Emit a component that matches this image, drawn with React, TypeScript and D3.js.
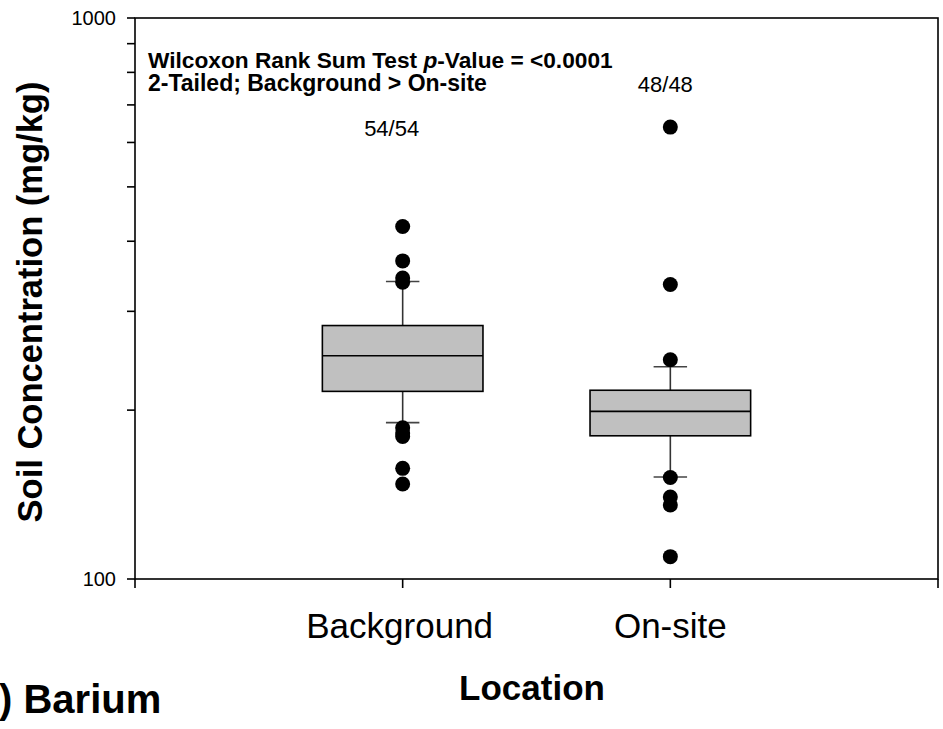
import * as d3 from "d3";
import { useEffect, useRef } from "react";

// box plot stats (mg/kg)
const categories = ["Background", "On-site"];
const q1 = [216, 180];
const median = [250, 199];
const q3 = [283, 217];
const whiskerLow = [190, 152];
const whiskerHigh = [339, 239];
const outliers = [
  [425, 369, 344, 338, 186, 182, 179.5, 157.5, 147.7],
  [639, 335, 246, 151.7, 140, 135.5, 109.6],
];
const countLabels = ["54/54", "48/48"];
const yMinorTicks = [200, 300, 400, 500, 600, 700, 800, 900];
const yMajorTicks = [100, 1000];

const FONT = "'Liberation Sans', Arial, Helvetica, sans-serif";

export default function App() {
  const svgRef = useRef<SVGSVGElement>(null);
  const width = 943;
  const height = 729;

  useEffect(() => {
    if (!svgRef.current) return;
    const svg = d3.select(svgRef.current);
    svg.selectAll("*").remove();

    const plot = { left: 135, right: 938, top: 18, bottom: 579 };

    const x = d3.scaleLinear().domain([0, 3]).range([plot.left, plot.right]);
    const y = d3.scaleLog().domain([100, 1000]).range([plot.bottom, plot.top]);

    const boxW = x(0.6) - x(0);
    const capW = x(0.125) - x(0);

    // frame
    svg
      .append("rect")
      .attr("x", plot.left)
      .attr("y", plot.top)
      .attr("width", plot.right - plot.left)
      .attr("height", plot.bottom - plot.top)
      .attr("fill", "none")
      .attr("stroke", "#000")
      .attr("stroke-width", 1.6);

    // y ticks (outward, left)
    svg
      .append("g")
      .selectAll("line")
      .data([...yMajorTicks, ...yMinorTicks])
      .enter()
      .append("line")
      .attr("x1", plot.left - 8)
      .attr("x2", plot.left)
      .attr("y1", (d) => y(d))
      .attr("y2", (d) => y(d))
      .attr("stroke", "#000")
      .attr("stroke-width", 1.6);

    svg
      .append("g")
      .selectAll("text")
      .data(yMajorTicks)
      .enter()
      .append("text")
      .attr("x", plot.left - 19)
      .attr("y", (d) => y(d) + 7)
      .attr("text-anchor", "end")
      .style("font-family", FONT)
      .style("font-size", "20px")
      .text((d) => String(d));

    // x ticks
    svg
      .append("g")
      .selectAll("line")
      .data([0, 1, 2, 3])
      .enter()
      .append("line")
      .attr("x1", (d) => x(d))
      .attr("x2", (d) => x(d))
      .attr("y1", plot.bottom)
      .attr("y2", plot.bottom + 9)
      .attr("stroke", "#000")
      .attr("stroke-width", 1.6);

    svg
      .append("g")
      .selectAll("text")
      .data(categories)
      .enter()
      .append("text")
      .attr("x", (_, i) => x(i + 1) - (i === 0 ? 3 : 0))
      .attr("y", 638)
      .attr("text-anchor", "middle")
      .style("font-family", FONT)
      .style("font-size", "35px")
      .text((d) => d);

    // boxes
    const g = svg
      .append("g")
      .selectAll("g")
      .data(categories)
      .enter()
      .append("g");

    g.append("line")
      .attr("x1", (_, i) => x(i + 1))
      .attr("x2", (_, i) => x(i + 1))
      .attr("y1", (_, i) => y(whiskerHigh[i]))
      .attr("y2", (_, i) => y(q3[i]))
      .attr("stroke", "#333")
      .attr("stroke-width", 1.6);
    g.append("line")
      .attr("x1", (_, i) => x(i + 1))
      .attr("x2", (_, i) => x(i + 1))
      .attr("y1", (_, i) => y(q1[i]))
      .attr("y2", (_, i) => y(whiskerLow[i]))
      .attr("stroke", "#333")
      .attr("stroke-width", 1.6);
    [whiskerHigh, whiskerLow].forEach((arr) => {
      g.append("line")
        .attr("x1", (_, i) => x(i + 1) - capW / 2)
        .attr("x2", (_, i) => x(i + 1) + capW / 2)
        .attr("y1", (_, i) => y(arr[i]))
        .attr("y2", (_, i) => y(arr[i]))
        .attr("stroke", "#444")
        .attr("stroke-width", 1.6);
    });

    g.append("rect")
      .attr("x", (_, i) => x(i + 1) - boxW / 2)
      .attr("y", (_, i) => y(q3[i]))
      .attr("width", boxW)
      .attr("height", (_, i) => y(q1[i]) - y(q3[i]))
      .attr("fill", "#c0c0c0")
      .attr("stroke", "#000")
      .attr("stroke-width", 1.6);

    g.append("line")
      .attr("x1", (_, i) => x(i + 1) - boxW / 2)
      .attr("x2", (_, i) => x(i + 1) + boxW / 2)
      .attr("y1", (_, i) => y(median[i]))
      .attr("y2", (_, i) => y(median[i]))
      .attr("stroke", "#000")
      .attr("stroke-width", 1.6);

    // outliers
    g.selectAll("circle")
      .data((_, i) => outliers[i].map((v) => ({ v, i })))
      .enter()
      .append("circle")
      .attr("cx", (d) => x(d.i + 1))
      .attr("cy", (d) => y(d.v))
      .attr("r", 7.5)
      .attr("fill", "#000");

    // n labels
    const countPos = [
      { dx: -11, y: 136 },
      { dx: -5, y: 92 },
    ];
    svg
      .append("g")
      .selectAll("text")
      .data(countLabels)
      .enter()
      .append("text")
      .attr("x", (_, i) => x(i + 1) + countPos[i].dx)
      .attr("y", (_, i) => countPos[i].y)
      .attr("text-anchor", "middle")
      .style("font-family", FONT)
      .style("font-size", "22px")
      .text((d) => d);

    // test annotation
    const ann = svg
      .append("text")
      .attr("x", 148)
      .attr("y", 68)
      .style("font-family", FONT)
      .style("font-size", "22.7px")
      .style("font-weight", "bold");
    ann.append("tspan").text("Wilcoxon Rank Sum Test ");
    ann.append("tspan").style("font-style", "italic").text("p");
    ann.append("tspan").text("-Value = <0.0001");

    svg
      .append("text")
      .attr("x", 148)
      .attr("y", 91)
      .style("font-family", FONT)
      .style("font-size", "23px")
      .style("font-weight", "bold")
      .text("2-Tailed; Background > On-site");

    // axis titles
    svg
      .append("text")
      .attr("transform", "translate(42,302) rotate(-90)")
      .attr("text-anchor", "middle")
      .style("font-family", FONT)
      .style("font-size", "34.5px")
      .style("font-weight", "bold")
      .text("Soil Concentration (mg/kg)");

    svg
      .append("text")
      .attr("x", 532)
      .attr("y", 700)
      .attr("text-anchor", "middle")
      .style("font-family", FONT)
      .style("font-size", "35px")
      .style("font-weight", "bold")
      .text("Location");

    svg
      .append("text")
      .attr("x", -1)
      .attr("y", 713)
      .style("font-family", FONT)
      .style("font-size", "40px")
      .style("font-weight", "bold")
      .text(") Barium");
  }, []);

  return (
    <svg
      ref={svgRef}
      width={width}
      height={height}
      style={{ position: "absolute", left: 0, top: 0, display: "block", background: "#fff" }}
    />
  );
}
